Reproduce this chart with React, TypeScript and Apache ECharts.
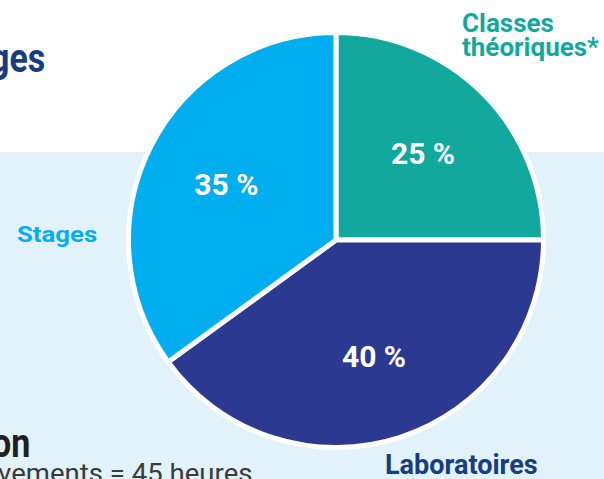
import React, { useEffect, useRef } from "react";
import * as echarts from "echarts";

const categories = ["Classes\nthéoriques*", "Laboratoires", "Stages"];
const values = [25, 40, 35];
const sliceColors = ["#13A89E", "#2B3990", "#00AEEF"];
const nameColors = ["#13A89E", "#173C80", "#00AEEF"];

const FONT = "Roboto, 'Open Sans', sans-serif";

export default function App() {
  const ref = useRef<HTMLDivElement>(null);
  useEffect(() => {
    document.body.style.margin = "0";
    const chart = echarts.init(ref.current!, undefined, { renderer: "svg" });
    const data = categories.map((c, i) => ({
      name: c,
      value: values[i],
      itemStyle: { color: sliceColors[i] },
    }));
    chart.setOption({
      animation: false,
      backgroundColor: "#ffffff",
      graphic: [
        { type: "rect", z: -10, shape: { x: 0, y: 152, width: 604, height: 327 }, style: { fill: "#E1F2FB" } },
        { type: "text", z: 10, x: -10, y: 39, scaleX: 0.85, style: { text: "ges", font: `bold 40px ${FONT}`, fill: "#173C80", textVerticalAlign: "top" } },
        { type: "text", z: 10, x: -8, y: 424, scaleX: 0.85, style: { text: "on", font: `bold 40px ${FONT}`, fill: "#231F20", textVerticalAlign: "top" } },
        { type: "text", z: 10, x: -2, y: 460, scaleX: 1.06, style: { text: "vements = 45 heures", font: `26px ${FONT}`, fill: "#3A3A3A", textVerticalAlign: "top" } },
        { type: "text", z: 10, x: 462, y: 11, style: { text: categories[0], font: `bold 26px ${FONT}`, lineHeight: 24, fill: nameColors[0], textVerticalAlign: "top" } },
        { type: "text", z: 10, x: 385, y: 451, style: { text: categories[1], font: `bold 27px ${FONT}`, fill: nameColors[1], textVerticalAlign: "top" } },
        { type: "text", z: 10, x: 17, y: 224, scaleX: 1.17, style: { text: categories[2], font: `bold 22px ${FONT}`, fill: nameColors[2], textVerticalAlign: "top" } },
      ],
      series: [
        {
          type: "pie",
          center: [336, 240],
          radius: [0, 207.5],
          startAngle: 90,
          clockwise: true,
          silent: true,
          label: { show: false },
          labelLine: { show: false },
          itemStyle: { borderColor: "#ffffff", borderWidth: 5 },
          emphasis: { disabled: true },
          data,
        },
        {
          type: "pie",
          center: [336, 240],
          radius: [0, 240],
          startAngle: 90,
          clockwise: true,
          silent: true,
          z: 5,
          itemStyle: { color: "rgba(0,0,0,0)", borderWidth: 0 },
          emphasis: { disabled: true },
          label: {
            show: true,
            position: "inside",
            formatter: (p: any) => `${p.value} %`,
            color: "#ffffff",
            fontFamily: FONT,
            fontWeight: "bold",
            fontSize: 30,
          },
          labelLine: { show: false },
          data: categories.map((c, i) => ({ name: c, value: values[i] })),
        },
      ],
    });
    return () => chart.dispose();
  }, []);
  return <div ref={ref} style={{ width: 604, height: 479 }} />;
}
